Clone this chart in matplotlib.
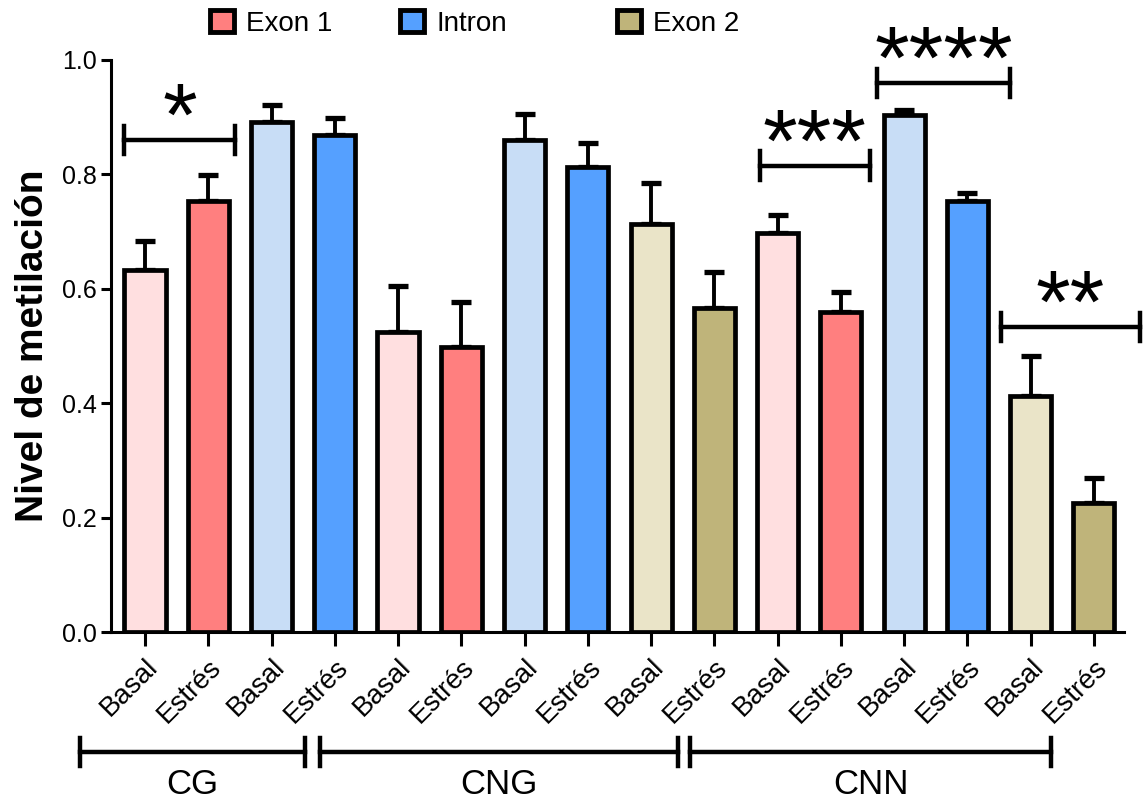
import numpy as np
import matplotlib.pyplot as plt
from matplotlib.patches import Patch

plt.rcParams['font.family'] = ['Liberation Sans', 'DejaVu Sans']

# datos
labels = ['Basal', 'Estrés'] * 8
values = [0.633, 0.754, 0.892, 0.868, 0.525, 0.498, 0.860, 0.812,
          0.713, 0.567, 0.698, 0.560, 0.904, 0.753, 0.413, 0.225]
errors = [0.051, 0.044, 0.030, 0.030, 0.079, 0.079, 0.046, 0.042,
          0.071, 0.062, 0.031, 0.035, 0.009, 0.014, 0.070, 0.045]
regions = ['Exon 1', 'Exon 1', 'Intron', 'Intron',
           'Exon 1', 'Exon 1', 'Intron', 'Intron', 'Exon 2', 'Exon 2',
           'Exon 1', 'Exon 1', 'Intron', 'Intron', 'Exon 2', 'Exon 2']
contexts = ['CG', 'CNG', 'CNN']
context_spans = [(-1.03, 2.53), (2.77, 8.42), (8.61, 14.33)]
# comparaciones significativas: (x inicio, x fin, y, texto)
sig = [(-0.33, 1.42, 0.86, '*'), (9.72, 11.46, 0.815, '***'),
       (11.57, 13.67, 0.96, '****'), (13.53, 15.73, 0.533, '**')]
legend_names = ['Exon 1', 'Intron', 'Exon 2']
legend_x = [0.184, 0.350, 0.540]  # fraccion de la figura

colors = {
    ('Exon 1', 'Basal'): '#FFDFE0', ('Exon 1', 'Estrés'): '#FF7F7F',
    ('Intron', 'Basal'): '#C8DDF6', ('Intron', 'Estrés'): '#55A0FF',
    ('Exon 2', 'Basal'): '#EAE4C8', ('Exon 2', 'Estrés'): '#BFB47A',
}

fig = plt.figure(figsize=(11.43, 7.99), dpi=100)
ax = fig.add_axes([0.097, 0.209, 0.886, 0.716])

x = np.arange(len(values))
bar_colors = [colors[(r, l)] for r, l in zip(regions, labels)]
ax.bar(x, values, width=0.65, color=bar_colors, edgecolor='black', linewidth=3.4, zorder=3)
ax.errorbar(x, values, yerr=[np.zeros(len(errors)), errors], fmt='none',
            ecolor='black', elinewidth=2.8, capsize=7.5, capthick=3.8, zorder=2)

ax.set_xlim(-0.54, 15.47)
ax.set_ylim(0, 1.0)
ax.set_yticks([0.0, 0.2, 0.4, 0.6, 0.8, 1.0])
ax.set_yticklabels(['0.0', '0.2', '0.4', '0.6', '0.8', '1.0'], fontsize=18)
ax.set_xticks(x)
ax.set_xticklabels(labels, rotation=45, ha='right', rotation_mode='anchor', fontsize=20)
ax.tick_params(axis='x', length=10, width=2.2, pad=6)
ax.tick_params(axis='y', length=7, width=2.2, pad=3)
for s in ['top', 'right']:
    ax.spines[s].set_visible(False)
for s in ['left', 'bottom']:
    ax.spines[s].set_linewidth(2.2)
ax.set_ylabel('Nivel de metilación', fontsize=28, fontweight='bold', labelpad=8)

# barras de significancia
for x0, x1, y, txt in sig:
    ax.plot([x0, x1], [y, y], color='black', lw=3.2, clip_on=False)
    for xe in (x0, x1):
        ax.plot([xe, xe], [y - 0.025, y + 0.025], color='black', lw=3.2, clip_on=False)
    ax.text((x0 + x1) / 2, y - 0.008, txt, ha='center', va='baseline',
            fontsize=64, clip_on=False)

# corchetes de contexto bajo el eje
for (x0, x1), name in zip(context_spans, contexts):
    yb = -0.21
    ax.plot([x0, x1], [yb, yb], color='black', lw=3.2, clip_on=False)
    for xe in (x0, x1):
        ax.plot([xe, xe], [yb - 0.025, yb + 0.025], color='black', lw=3.2, clip_on=False)
    ax.text((x0 + x1) / 2, yb - 0.028, name, ha='center', va='top', fontsize=25)

# leyenda: una entrada por posicion
for name, lx in zip(legend_names, legend_x):
    h = Patch(facecolor=colors[(name, 'Estrés')], edgecolor='black', linewidth=3.5, label=name)
    fig.legend(handles=[h], loc='upper left', bbox_to_anchor=(lx, 0.9875),
               frameon=False, fontsize=20, handlelength=0.85, handleheight=0.85,
               handletextpad=0.45, borderpad=0, borderaxespad=0)

fig.savefig('out.png', dpi=100)
